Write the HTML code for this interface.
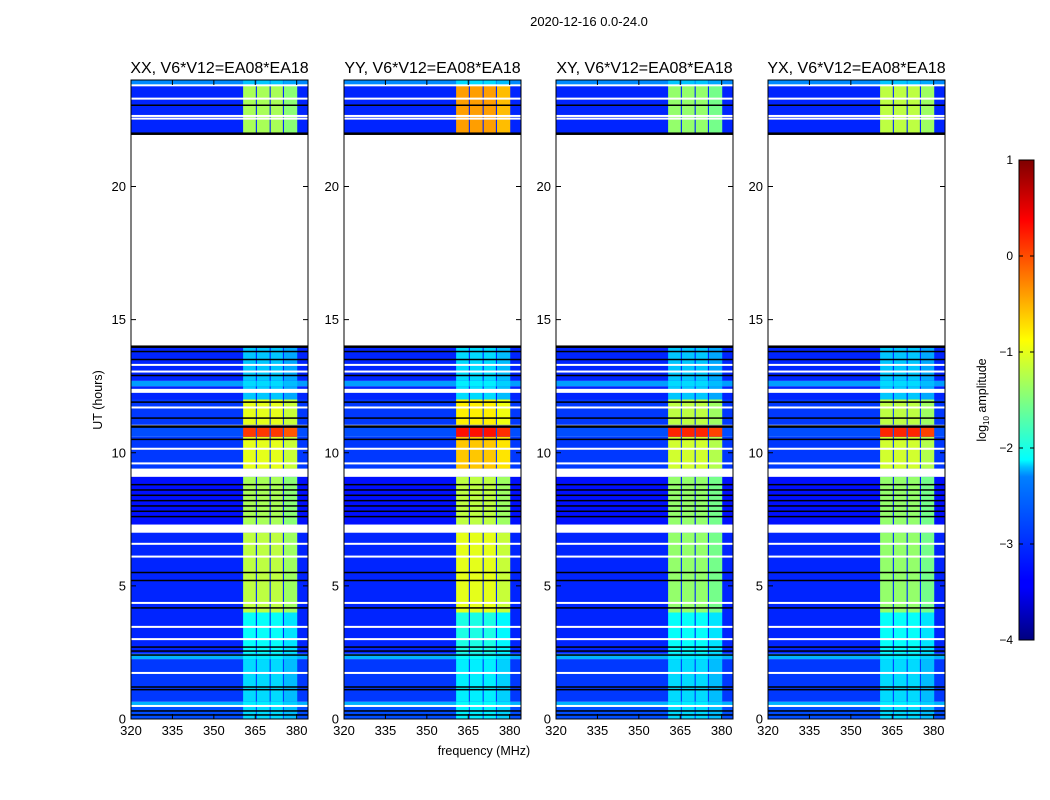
<!DOCTYPE html>
<html><head><meta charset="utf-8">
<style>
html,body{margin:0;padding:0;background:#fff;}
svg{display:block;font-family:"Liberation Sans",sans-serif;}
</style></head>
<body>
<svg id="chart" width="1050" height="800" viewBox="0 0 1050 800" xmlns="http://www.w3.org/2000/svg">
<defs>
<linearGradient id="jetgrad" x1="0" y1="1" x2="0" y2="0">
<stop offset="0" stop-color="#00007f"/><stop offset="0.11" stop-color="#0000ff"/>
<stop offset="0.125" stop-color="#0000ff"/><stop offset="0.34" stop-color="#0080ff"/>
<stop offset="0.36" stop-color="#00bfff"/><stop offset="0.375" stop-color="#00ffff"/>
<stop offset="0.5" stop-color="#80ff80"/><stop offset="0.625" stop-color="#ffff00"/>
<stop offset="0.875" stop-color="#ff0000"/><stop offset="1" stop-color="#7f0000"/>
</linearGradient>
</defs>
<text x="589" y="26" font-size="13" text-anchor="middle">2020-12-16 0.0-24.0</text>
<g id="panels"></g>
<text transform="translate(102,400) rotate(-90)" font-size="12.5" text-anchor="middle">UT (hours)</text>
<text x="484" y="755" font-size="12.5" text-anchor="middle">frequency (MHz)</text>
<g id="colorbar"></g>
</svg>
<script>
// ---- data ----
const panelTitles = ["XX, V6*V12=EA08*EA18","YY, V6*V12=EA08*EA18","XY, V6*V12=EA08*EA18","YX, V6*V12=EA08*EA18"];
const segStart = [0, 0.5, 0.65, 2.25, 2.45, 4.0, 7.3, 9.4, 10.6, 11.05, 12.0, 12.5, 12.7, 22.0, 23.8];
const segEnd   = [0.5, 0.65, 2.25, 2.45, 4.0, 7.0, 9.1, 10.6, 10.95, 12.0, 12.5, 12.7, 14.0, 23.8, 24.0];
const bgLevel  = [-3.0,-2.5,-3.1,-2.5,-3.2,-3.2,-3.3,-3.1,-3.0,-3.1,-3.2,-2.6,-3.2,-3.2,-2.7];
const bandXX = [-2.3,-2.2,-2.3,-2.2,-2.1,-1.2,-1.3,-1.0,0.1,-1.0,-2.4,-2.3,-2.4,-1.3,-2.4];
const bandYY = [-2.2,-2.1,-2.2,-2.1,-2.0,-1.0,-1.2,-0.6,0.3,-0.8,-2.3,-2.2,-2.3,-0.4,-2.3];
const bandXY = [-2.3,-2.2,-2.3,-2.2,-2.1,-1.4,-1.4,-1.1,0.2,-1.2,-2.4,-2.3,-2.4,-1.4,-2.4];
const bandYX = [-2.3,-2.2,-2.3,-2.2,-2.1,-1.4,-1.4,-1.1,0.2,-1.2,-2.4,-2.3,-2.4,-1.2,-2.4];
const subbandStart = [360.6, 365.6, 370.6, 375.4];
const subbandEnd   = [365.2, 370.2, 375.0, 380.2];
const whiteLines = [0.49, 1.73, 3.0, 3.46, 4.36, 6.1, 6.58, 9.6, 10.15, 11.7, 13.05, 13.3, 22.55, 22.65, 23.3, 23.8];
const whiteGaps0 = [7.0, 9.1, 12.25, 14.0];
const whiteGaps1 = [7.3, 9.4, 12.4, 22.0];
const blackLines = [0.15, 0.3, 1.1, 1.2, 2.4, 2.55, 2.7, 4.17, 5.2, 5.5, 7.6, 7.8, 8.0, 8.2, 8.4, 8.6, 8.8, 10.5, 11.0, 11.3, 11.9, 12.9, 13.5, 13.8, 14.0, 22.0, 23.05];
const xTicks = [320, 335, 350, 365, 380];
const yTicks = [0, 5, 10, 15, 20];
const cbTicks = [-4, -3, -2, -1, 0, 1];
const cbLabels = ["\u22124","\u22123","\u22122","\u22121","0","1"];

// ---- layout ----
const panelLeft = [131, 344, 556, 768];
const pw = 177, plotTop = 80, ph = 639;
const fMin = 320, fMax = 384.1, tMin = 0, tMax = 24;
const bands = [bandXX, bandYY, bandXY, bandYX];
const NS = "http://www.w3.org/2000/svg";

function jet(v){
  let x = (v + 4) / 5; x = Math.max(0, Math.min(1, x));
  const r = Math.max(0, Math.min(1, 1.5 - Math.abs(4*x - 3)));
  const g = Math.max(0, Math.min(1, 1.5 - Math.abs(4*x - 2)));
  const b = Math.max(0, Math.min(1, 1.5 - Math.abs(4*x - 1)));
  return "rgb(" + Math.round(r*255) + "," + Math.round(g*255) + "," + Math.round(b*255) + ")";
}
function mk(tag, attrs, parent){
  const e = document.createElementNS(NS, tag);
  for (const k in attrs) e.setAttribute(k, attrs[k]);
  parent.appendChild(e); return e;
}
const root = document.getElementById("panels");
panelLeft.forEach((px, p) => {
  const xs = f => px + (f - fMin) / (fMax - fMin) * pw;
  const ys = t => plotTop + ph - (t - tMin) / (tMax - tMin) * ph;
  const g = mk("g", {}, root);
  
  
  mk("rect", {x:px, y:plotTop, width:pw, height:ph, fill:"#fff"}, g);
  segStart.forEach((t0, i) => {
    const t1 = segEnd[i];
    const r = mk("rect", {x:px, y:ys(t1), width:pw, height:ys(t0)-ys(t1), fill:jet(bgLevel[i])}, g);
    
    
    subbandStart.forEach((f0, j) => {
      const c = mk("rect", {x:xs(f0), y:ys(t1), width:xs(subbandEnd[j])-xs(f0), height:ys(t0)-ys(t1), fill:jet(bands[p][i] - (j===3?0.15:0))}, g);
      
      
    });
  });
  whiteGaps0.forEach((t0, i) => {
    const r = mk("rect", {x:px, y:ys(whiteGaps1[i]), width:pw, height:ys(t0)-ys(whiteGaps1[i]), fill:"#fff"}, g);
    
    
  });
  whiteLines.forEach(t => {
    const r = mk("rect", {x:px, y:ys(t)-1, width:pw, height:2, fill:"#fff"}, g);
    
    
  });
  blackLines.forEach(t => {
    const r = mk("rect", {x:px, y:ys(t)-0.8, width:pw, height:(t===14||t===22||t===11.0)?2.5:1.5, fill:"#000"}, g);
    
    
  });
  const fr = mk("rect", {x:px, y:plotTop, width:pw, height:ph, fill:"none", stroke:"#000", "stroke-width":1}, g);
  
  
  const tt = mk("text", {x:px+pw/2, y:plotTop-7, "font-size":16, "text-anchor":"middle"}, g);
  tt.textContent = panelTitles[p];
  
  
  xTicks.forEach(f => {
    const x = xs(f);
    mk("line", {x1:x, x2:x, y1:plotTop, y2:plotTop+5, stroke:"#000"}, g);
    mk("line", {x1:x, x2:x, y1:plotTop+ph, y2:plotTop+ph-5, stroke:"#000"}, g);
    const l = mk("text", {x:x, y:plotTop+ph+16, "font-size":13, "text-anchor":"middle"}, g);
    l.textContent = f;
    
    
  });
  yTicks.forEach(t => {
    const y = ys(t);
    mk("line", {x1:px, x2:px+5, y1:y, y2:y, stroke:"#000"}, g);
    mk("line", {x1:px+pw, x2:px+pw-5, y1:y, y2:y, stroke:"#000"}, g);
    const l = mk("text", {x:px-5, y:y+4.5, "font-size":13, "text-anchor":"end"}, g);
    l.textContent = t;
    
    
  });
});
// colorbar
const cb = document.getElementById("colorbar");
const cbx = 1019, cbw = 15, cbTop = 160, cbH = 480;
const cbY = v => cbTop + cbH - (v + 4) / 5 * cbH;
mk("rect", {x:cbx, y:cbTop, width:cbw, height:cbH, fill:"url(#jetgrad)", stroke:"#000", "stroke-width":1}, cb);
cbTicks.forEach((v, i) => {
  const y = cbY(v);
  mk("line", {x1:cbx, x2:cbx+4, y1:y, y2:y, stroke:"#000"}, cb);
  mk("line", {x1:cbx+cbw, x2:cbx+cbw-4, y1:y, y2:y, stroke:"#000"}, cb);
  const l = mk("text", {x:1013, y:y+4, "font-size":12, "text-anchor":"end"}, cb);
  l.textContent = cbLabels[i];
  
  
});
const cl = mk("text", {transform:"translate(986,400) rotate(-90)", "font-size":12.5, "text-anchor":"middle"}, cb);


cl.innerHTML = 'log<tspan font-size="8" dy="3">10</tspan><tspan dy="-3"> amplitude</tspan>';
</script>
</body></html>
